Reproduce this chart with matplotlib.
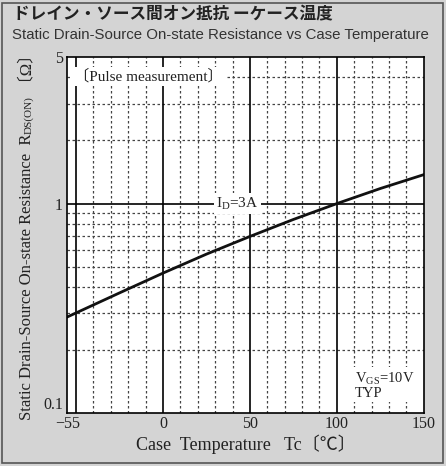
import matplotlib
matplotlib.use("Agg")
import matplotlib.pyplot as plt
import numpy as np
from matplotlib.patches import Rectangle

# data
temp_c = [-55, -25, 0, 25, 50, 75, 100, 125, 150]
rds_on = [0.288, 0.375, 0.466, 0.574, 0.697, 0.84, 1.0, 1.18, 1.374]
x_ticks = [-55, 0, 50, 100, 150]
x_tick_labels = ["\u221255", "0", "50", "100", "150"]
y_ticks = [0.1, 1, 5]
y_tick_labels = ["0.1", "1", "5"]

W, H = 446, 466
fig = plt.figure(figsize=(W / 100, H / 100), dpi=100)
fig.patch.set_facecolor("#d4d4d4")
fig.patches.append(Rectangle((1.5 / W, 3.5 / H), 441 / W, 460 / H, transform=fig.transFigure,
                             fill=False, edgecolor="#555555", lw=1.2))

ax = fig.add_axes([67.3 / W, 1 - 413.3 / H, (423.8 - 67.3) / W, (413.3 - 57) / H])
ax.set_facecolor("white")
ax.set_xlim(-55, 150)
ax.set_yscale("log")
ax.set_ylim(0.1, 5)

serif = ["Liberation Serif", "Noto Sans CJK JP"]
tc = "#222222"

# grid
for xv in range(-40, 150, 10):
    if xv % 50 != 0:
        ax.axvline(xv, color="#444444", lw=0.9, ls=(0, (2, 2)), zorder=1)
for xv in [-50, 0, 50, 100]:
    ax.axvline(xv, color="black", lw=1.2, zorder=2)
for yv in [0.2, 0.3, 0.4, 0.5, 0.6, 0.7, 0.8, 0.9, 2, 3, 4]:
    ax.axhline(yv, color="#444444", lw=0.9, ls=(0, (2, 2)), zorder=1)
ax.axhline(1, color="black", lw=1.2, zorder=2)

ax.plot(temp_c, rds_on, color="#111111", lw=2, zorder=4)

for s in ax.spines.values():
    s.set_linewidth(1.2)
    s.set_zorder(6)

ax.set_xticks(x_ticks)
ax.set_xticklabels(x_tick_labels, family=serif, fontsize=11.5, color=tc)
ax.set_yticks(y_ticks)
ax.set_yticklabels(y_tick_labels, family=serif, fontsize=11.5, color=tc)
ax.yaxis.set_minor_locator(matplotlib.ticker.NullLocator())
ax.tick_params(axis="both", length=0, pad=3)
ax.tick_params(axis="x", pad=2)
ax.get_yticklabels()[0].set_va("bottom")
ax.get_xticklabels()[0].set_x(-52.5)

ax.set_xlabel("Case  Temperature   Tc\u3014\u2103\u3015", family=serif, fontsize=13, color=tc, labelpad=2)

box = dict(facecolor="white", edgecolor="none", pad=1.5)
ax.text(-51, 4.05, "\u3014Pulse measurement\u3015", family=serif, fontsize=11, color=tc,
        va="center", ha="left", bbox=box, zorder=5)
ax.text(43, 1.0, "I$_{\\mathregular{D}}$=3A", family=serif, fontsize=11, color=tc,
        va="center", ha="center", bbox=box, zorder=5)
ax.text(110.5, 0.136, "V$_{\\mathregular{GS}}$=10V\nTYP", family=serif, fontsize=10.5, color=tc,
        va="center", ha="left", linespacing=0.95, bbox=box, zorder=5)

fig.text(13 / W, 1 - 14 / H, "ドレイン・ソース間オン抵抗 ーケース温度", family=["Noto Sans CJK JP"],
         fontsize=12, fontweight="bold", color=tc, va="center", ha="left")
fig.text(12 / W, 1 - 35 / H, "Static Drain-Source On-state Resistance vs Case Temperature",
         family=["Liberation Sans"], fontsize=10.85, color="#333333",
         va="center", ha="left")

# y label built from pieces (rotated), bottom to top
fig.canvas.draw()
r = fig.canvas.get_renderer()
xc = 27.0
y0 = 420.0
parts = [("Static Drain-Source On-state Resistance  R", 12, 0.0),
         ("DS(ON)", 8, 1.5),
         (" \u3014\u03a9\u3015", 12, 0.0)]
ycur = y0
for txt, fs, dx in parts:
    t = fig.text((xc + dx) / W, 1 - ycur / H, txt, family=serif, fontsize=fs, color=tc,
                 rotation=90, ha="center", va="bottom")
    ext = t.get_window_extent(renderer=r)
    ycur -= ext.height

fig.savefig("out.png", dpi=100, facecolor=fig.get_facecolor())
